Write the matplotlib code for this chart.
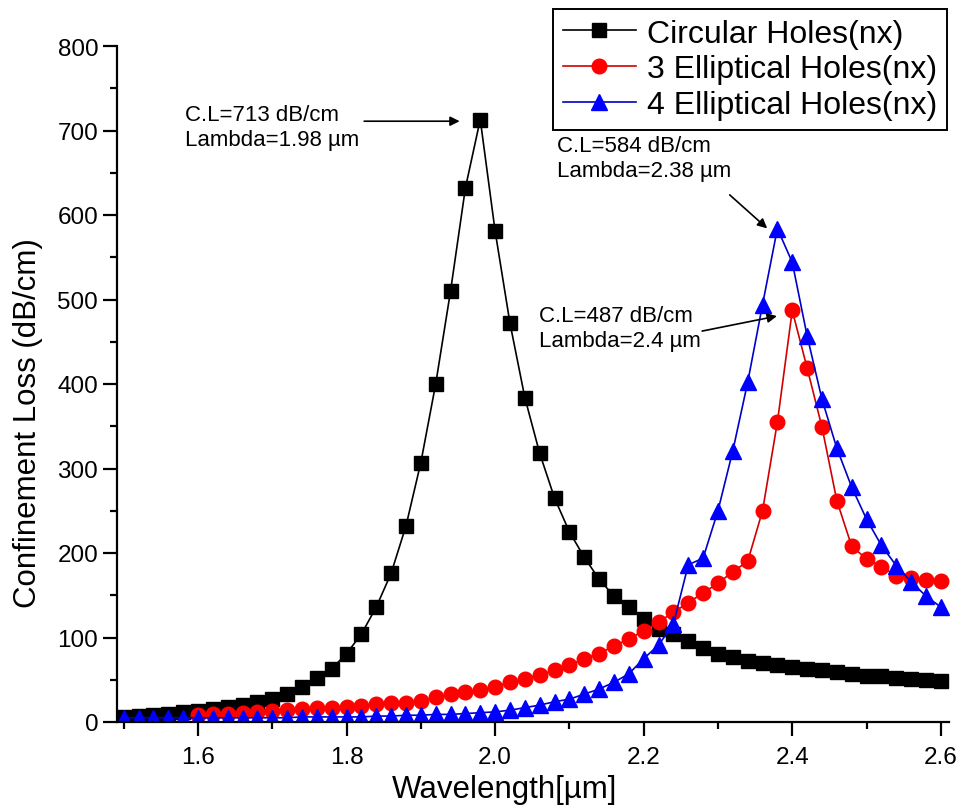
import numpy as np
import matplotlib
matplotlib.use("Agg")
import matplotlib.pyplot as plt
from matplotlib.ticker import MultipleLocator

plt.rcParams['font.family'] = ['Liberation Sans', 'DejaVu Sans']

# wavelength grid (um), 0.02 steps
wl_circ = np.round(np.arange(1.50, 2.601, 0.02), 2)
wl_ell3 = np.round(np.arange(1.60, 2.601, 0.02), 2)
wl_ell4 = np.round(np.arange(1.50, 2.601, 0.02), 2)

# confinement loss (dB/cm)
circular = [6, 7, 8, 10, 11.5, 13, 15, 17.5, 20, 24, 27, 33, 41, 52, 63, 81,
            104, 136, 176, 232, 307, 400, 510, 632, 713, 581, 472, 384, 318,
            265, 225, 195, 169, 149, 136, 122, 110, 104, 96, 88, 81, 77, 72,
            70, 67, 65, 63, 61, 59, 57, 55, 54, 52, 51, 50, 48]
ellip3 = [8, 9, 10, 11, 12, 13, 14, 15, 16, 17, 18, 19, 21, 22, 23, 25, 29,
          33, 35, 38, 42, 47, 51, 56, 61, 67, 75, 81, 90, 98, 108, 118, 130,
          141, 153, 164, 178, 190, 250, 355, 487, 419, 349, 262, 208, 193,
          184, 173, 170, 168, 167]
ellip4 = [5, 5, 5, 5, 5, 5, 5, 5, 5, 5, 5, 5, 6, 6, 6, 6, 6, 7, 7, 8, 8, 9, 9,
          10, 11, 12, 14, 17, 20, 24, 27, 33, 39, 47, 57, 75, 91, 116, 186,
          194, 250, 321, 402, 494, 584, 544, 457, 382, 324, 278, 240, 209,
          185, 166, 149, 136]

labels = ["Circular Holes(nx)", "3 Elliptical Holes(nx)", "4 Elliptical Holes(nx)"]

fig = plt.figure(figsize=(9.69, 8.12), dpi=100)
ax = fig.add_axes([117/969, 1-723/812, (949-117)/969, (723-47)/812])

ax.plot(wl_circ, circular, '-s', color='black', lw=1.2, ms=10, label=labels[0])
ax.plot(wl_ell3, ellip3, '-o', color='#d00000', mfc='red', mec='red', lw=1.2,
        ms=10.5, label=labels[1])
ax.plot(wl_ell4, ellip4, '-^', color='#0000c8', mfc='blue', mec='blue', lw=1.2,
        ms=11, label=labels[2])

ax.set_xlim(1.491, 2.611)
ax.set_ylim(0, 800)
ax.xaxis.set_minor_locator(MultipleLocator(0.1))
ax.yaxis.set_major_locator(MultipleLocator(100))
ax.yaxis.set_minor_locator(MultipleLocator(50))
ax.set_xticks([1.6, 1.8, 2.0, 2.2, 2.4, 2.6])
ax.xaxis.set_major_formatter(matplotlib.ticker.FormatStrFormatter('%.1f'))

for s in ['top', 'right']:
    ax.spines[s].set_visible(False)
for s in ['left', 'bottom']:
    ax.spines[s].set_linewidth(1.6)
ax.tick_params(which='major', direction='out', length=10, width=1.6, labelsize=17.5)
ax.tick_params(axis='x', which='major', pad=7)
ax.tick_params(which='minor', direction='out', length=5, width=1.6)

ax.set_xlabel("Wavelength[µm]", fontsize=22.5)
ax.set_ylabel("Confinement Loss (dB/cm)", fontsize=22.5)
ax.xaxis.set_label_coords(0.466, -0.099)
ax.yaxis.set_label_coords(-0.107, 0.444)
ax.xaxis.label.set_va('center')
ax.yaxis.label.set_va('center')

arrow = dict(arrowstyle='-|>', color='black', lw=1.2, mutation_scale=14)
ax.text(1.582, 731, "C.L=713 dB/cm\nLambda=1.98 µm", fontsize=16, va='top',
        ha='left', linespacing=1.25)
ax.annotate('', xy=(1.956, 711), xytext=(1.820, 711), arrowprops=arrow)

ax.text(2.083, 695, "C.L=584 dB/cm\nLambda=2.38 µm", fontsize=16, va='top',
        ha='left', linespacing=1.25)
ax.annotate('', xy=(2.369, 582), xytext=(2.313, 626), arrowprops=arrow)

ax.text(2.059, 493, "C.L=487 dB/cm\nLambda=2.4 µm", fontsize=16, va='top',
        ha='left', linespacing=1.25)
ax.annotate('', xy=(2.383, 481), xytext=(2.275, 462), arrowprops=arrow)

leg = fig.legend(loc='upper right', bbox_to_anchor=(947/969, 1-10/812),
                 fontsize=23, frameon=True, fancybox=False, framealpha=1,
                 edgecolor='black', handlelength=2.3, borderpad=0.3,
                 labelspacing=0.18, handletextpad=0.35, borderaxespad=0)
leg.get_frame().set_linewidth(1.4)

fig.savefig("out.png", dpi=100)
